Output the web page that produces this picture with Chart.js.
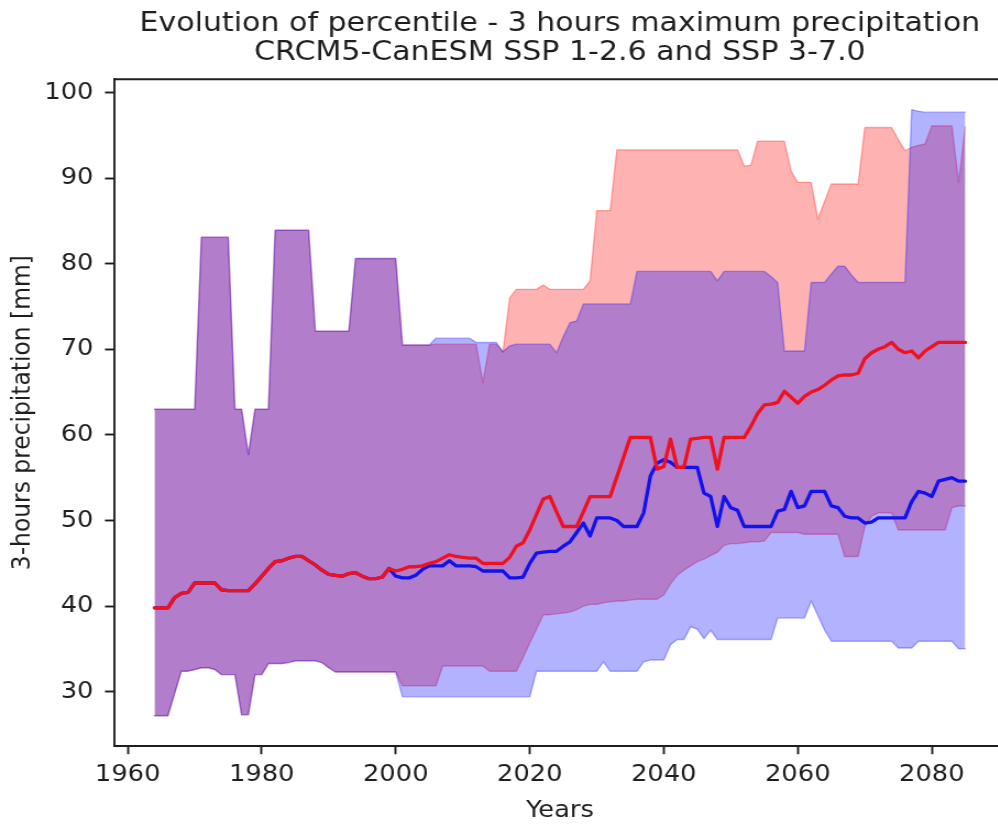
<!DOCTYPE html>
<html>
<head>
<meta charset="utf-8">
<title>Evolution of percentile - 3 hours maximum precipitation</title>
<script src="https://cdn.jsdelivr.net/npm/chart.js@4.4.1/dist/chart.umd.min.js"></script>
<style>
  html, body { margin: 0; padding: 0; overflow: hidden; background: #ffffff; }
  #wrap { position: absolute; left: 0; top: 0; }
  canvas { display: block; }
</style>
</head>
<body>
<div id="wrap">
  <!-- drawing surface is 920 px wide, shown 1.1x wider -->
  <canvas id="chart" width="920" height="825" style="width:1012px;height:825px"></canvas>
</div>
<script>
// ---- data -------------------------------------------------------------
const years = [
  1964, 1965, 1966, 1967, 1968, 1969, 1970, 1971, 1972, 1973,
  1974, 1975, 1976, 1977, 1978, 1979, 1980, 1981, 1982, 1983,
  1984, 1985, 1986, 1987, 1988, 1989, 1990, 1991, 1992, 1993,
  1994, 1995, 1996, 1997, 1998, 1999, 2000, 2001, 2002, 2003,
  2004, 2005, 2006, 2007, 2008, 2009, 2010, 2011, 2012, 2013,
  2014, 2015, 2016, 2017, 2018, 2019, 2020, 2021, 2022, 2023,
  2024, 2025, 2026, 2027, 2028, 2029, 2030, 2031, 2032, 2033,
  2034, 2035, 2036, 2037, 2038, 2039, 2040, 2041, 2042, 2043,
  2044, 2045, 2046, 2047, 2048, 2049, 2050, 2051, 2052, 2053,
  2054, 2055, 2056, 2057, 2058, 2059, 2060, 2061, 2062, 2063,
  2064, 2065, 2066, 2067, 2068, 2069, 2070, 2071, 2072, 2073,
  2074, 2075, 2076, 2077, 2078, 2079, 2080, 2081, 2082, 2083,
  2084, 2085
];

// historical period 1964-1999 (shared by both scenarios)
const histMedian = [
  39.8, 39.8, 39.8, 41.0, 41.5, 41.6, 42.7, 42.7, 42.7, 42.7,
  41.9, 41.8, 41.8, 41.8, 41.8, 42.6, 43.5, 44.4, 45.2, 45.3,
  45.6, 45.8, 45.8, 45.3, 44.8, 44.2, 43.7, 43.6, 43.5, 43.8,
  43.9, 43.5, 43.2, 43.2, 43.4, 44.4
];
const histLow = [
  27.2, 27.2, 27.2, 29.8, 32.4, 32.4, 32.6, 32.8, 32.8, 32.6,
  32.0, 32.0, 32.0, 27.3, 27.3, 32.0, 32.0, 33.3, 33.3, 33.3,
  33.4, 33.6, 33.6, 33.6, 33.6, 33.4, 32.8, 32.3, 32.3, 32.3,
  32.3, 32.3, 32.3, 32.3, 32.3, 32.3
];
const histHigh = [
  63.0, 63.0, 63.0, 63.0, 63.0, 63.0, 63.0, 83.1, 83.1, 83.1,
  83.1, 83.1, 63.0, 63.0, 57.7, 63.0, 63.0, 63.0, 83.9, 83.9,
  83.9, 83.9, 83.9, 83.9, 72.1, 72.1, 72.1, 72.1, 72.1, 72.1,
  80.6, 80.6, 80.6, 80.6, 80.6, 80.6
];

// SSP 1-2.6, 2000-2085
const ssp126Median = [
  43.5, 43.3, 43.3, 43.6, 44.3, 44.7, 44.7, 44.7, 45.3, 44.7,
  44.7, 44.7, 44.6, 44.1, 44.1, 44.1, 44.1, 43.3, 43.3, 43.4,
  45.0, 46.2, 46.3, 46.4, 46.4, 47.0, 47.5, 48.6, 49.7, 48.2,
  50.3, 50.3, 50.3, 50.0, 49.3, 49.3, 49.3, 50.9, 55.2, 56.7,
  57.1, 56.8, 56.2, 56.2, 56.2, 56.2, 53.2, 52.8, 49.3, 52.8,
  51.5, 51.2, 49.3, 49.3, 49.3, 49.3, 49.3, 51.1, 51.3, 53.4,
  51.5, 51.7, 53.4, 53.4, 53.4, 51.7, 51.5, 50.5, 50.3, 50.3,
  49.7, 49.8, 50.3, 50.3, 50.3, 50.3, 50.3, 52.2, 53.4, 53.2,
  52.8, 54.6, 54.8, 55.0, 54.6, 54.6
];
const ssp126Low = [
  32.3, 29.4, 29.4, 29.4, 29.4, 29.4, 29.4, 29.4, 29.4, 29.4,
  29.4, 29.4, 29.4, 29.4, 29.4, 29.4, 29.4, 29.4, 29.4, 29.4,
  29.4, 32.4, 32.4, 32.4, 32.4, 32.4, 32.4, 32.4, 32.4, 32.4,
  32.4, 33.5, 32.4, 32.4, 32.4, 32.4, 32.4, 33.5, 33.7, 33.7,
  33.7, 35.5, 36.1, 36.1, 37.6, 37.3, 36.2, 37.2, 36.1, 36.1,
  36.1, 36.1, 36.1, 36.1, 36.1, 36.1, 36.1, 38.6, 38.6, 38.6,
  38.6, 38.6, 40.6, 38.9, 37.2, 35.9, 35.9, 35.9, 35.9, 35.9,
  35.9, 35.9, 35.9, 35.9, 35.9, 35.1, 35.1, 35.1, 35.9, 35.9,
  35.9, 35.9, 35.9, 35.9, 35.0, 35.0
];
const ssp126High = [
  80.6, 70.5, 70.5, 70.5, 70.5, 70.5, 71.3, 71.3, 71.3, 71.3,
  71.3, 71.3, 70.8, 70.8, 70.8, 70.8, 69.7, 70.4, 70.6, 70.6,
  70.6, 70.6, 70.6, 70.6, 69.6, 71.5, 73.1, 73.3, 75.3, 75.3,
  75.3, 75.3, 75.3, 75.3, 75.3, 75.3, 79.1, 79.1, 79.1, 79.1,
  79.1, 79.1, 79.1, 79.1, 79.1, 79.1, 79.1, 79.1, 78.0, 79.1,
  79.1, 79.1, 79.1, 79.1, 79.1, 79.1, 78.5, 77.8, 69.8, 69.8,
  69.8, 69.8, 77.8, 77.8, 77.8, 78.8, 79.7, 79.7, 78.7, 77.8,
  77.8, 77.8, 77.8, 77.8, 77.8, 77.8, 77.8, 98.0, 97.8, 97.7,
  97.7, 97.7, 97.7, 97.7, 97.7, 97.7
];

// SSP 3-7.0, 2000-2085
const ssp370Median = [
  44.1, 44.3, 44.6, 44.6, 44.7, 45.0, 45.2, 45.6, 46.0, 45.8,
  45.7, 45.6, 45.6, 45.0, 45.0, 45.0, 45.0, 45.7, 47.0, 47.4,
  48.9, 50.7, 52.5, 52.8, 51.0, 49.3, 49.3, 49.3, 51.0, 52.8,
  52.8, 52.8, 52.8, 55.1, 57.4, 59.7, 59.7, 59.7, 59.7, 56.0,
  56.3, 59.5, 56.2, 56.2, 59.5, 59.6, 59.7, 59.7, 56.0, 59.7,
  59.7, 59.7, 59.7, 61.0, 62.5, 63.5, 63.6, 63.8, 65.1, 64.4,
  63.7, 64.5, 65.0, 65.3, 65.8, 66.4, 66.9, 67.0, 67.0, 67.2,
  68.9, 69.6, 70.0, 70.3, 70.8, 70.0, 69.6, 69.8, 69.0, 69.8,
  70.3, 70.8, 70.8, 70.8, 70.8, 70.8
];
const ssp370Low = [
  32.3, 30.7, 30.7, 30.7, 30.7, 30.7, 30.7, 33.0, 33.0, 33.0,
  33.0, 33.0, 33.0, 33.0, 32.4, 32.4, 32.4, 32.4, 32.4, 34.0,
  35.7, 37.3, 39.0, 39.0, 39.1, 39.2, 39.3, 39.6, 40.0, 40.2,
  40.2, 40.4, 40.5, 40.6, 40.6, 40.7, 40.8, 40.8, 40.8, 40.8,
  41.3, 42.6, 43.6, 44.2, 44.7, 45.2, 45.5, 45.9, 46.3, 47.1,
  47.3, 47.3, 47.4, 47.5, 47.5, 47.6, 48.6, 48.6, 48.6, 48.6,
  48.6, 48.4, 48.4, 48.4, 48.4, 48.4, 48.4, 45.8, 45.8, 45.8,
  49.3, 50.5, 50.9, 50.9, 50.9, 48.9, 48.9, 48.9, 48.9, 48.9,
  48.9, 48.9, 48.9, 51.5, 51.7, 51.7
];
const ssp370High = [
  80.6, 70.5, 70.5, 70.5, 70.5, 70.5, 70.6, 70.6, 70.6, 70.6,
  70.6, 70.6, 70.6, 66.1, 70.6, 70.6, 69.7, 76.0, 77.0, 77.0,
  77.0, 77.0, 77.5, 77.0, 77.0, 77.0, 77.0, 77.0, 77.0, 78.0,
  86.2, 86.2, 86.2, 93.3, 93.3, 93.3, 93.3, 93.3, 93.3, 93.3,
  93.3, 93.3, 93.3, 93.3, 93.3, 93.3, 93.3, 93.3, 93.3, 93.3,
  93.3, 93.3, 91.4, 91.5, 94.3, 94.3, 94.3, 94.3, 94.3, 90.8,
  89.5, 89.5, 89.5, 85.2, 87.3, 89.3, 89.3, 89.3, 89.3, 89.3,
  95.9, 95.9, 95.9, 95.9, 95.9, 94.5, 93.2, 93.6, 93.8, 94.0,
  96.1, 96.1, 96.1, 96.1, 89.5, 96.0
];

const xTicks = [1960, 1980, 2000, 2020, 2040, 2060, 2080];
const yTicks = [30, 40, 50, 60, 70, 80, 90, 100];

const titleLines = [
  'Evolution of percentile - 3 hours maximum precipitation',
  'CRCM5-CanESM SSP 1-2.6 and SSP 3-7.0'
];
const xLabel = 'Years';
const yLabel = '3-hours precipitation [mm]';

// ---- series assembly ----------------------------------------------------
const toPoints = (vals) => years.map((yr, i) => ({ x: yr, y: vals[i] }));
const full = (hist, future) => hist.concat(future);

const s126 = {
  median: full(histMedian, ssp126Median),
  low: full(histLow, ssp126Low),
  high: full(histHigh, ssp126High)
};
const s370 = {
  median: full(histMedian, ssp370Median),
  low: full(histLow, ssp370Low),
  high: full(histHigh, ssp370High)
};

// axis limits with a 5 % margin around the data, like the default autoscale
const allY = [].concat(s126.low, s126.high, s370.low, s370.high);
const yMin0 = Math.min(...allY), yMax0 = Math.max(...allY);
const yPad = 0.05 * (yMax0 - yMin0);
const xMin0 = years[0], xMax0 = years[years.length - 1];
const xPad = 0.05 * (xMax0 - xMin0);

// ---- styling ------------------------------------------------------------
const FONT = 'DejaVu Sans';
const INK = '#1e1e1e';
const RED_LINE = '#f0101e';
const BLUE_LINE = '#1212ee';
const RED_BAND = 'rgba(255, 0, 0, 0.3)';
const BLUE_BAND = 'rgba(0, 0, 255, 0.3)';
const SPINE_W = 1.9;

// plot frame: top and right spines
const framePlugin = {
  id: 'frame',
  afterDatasetsDraw(chart) {
    const { ctx, chartArea: a } = chart;
    ctx.save();
    ctx.strokeStyle = INK;
    ctx.lineWidth = SPINE_W;
    ctx.beginPath();
    ctx.moveTo(a.left, a.top);
    ctx.lineTo(a.right, a.top);
    ctx.lineTo(a.right, a.bottom);
    ctx.stroke();
    ctx.restore();
  }
};

const bandEdge = (color) => ({
  borderColor: color,
  borderWidth: 1.4,
  pointRadius: 0,
  tension: 0
});

new Chart(document.getElementById('chart'), {
  type: 'line',
  data: {
    datasets: [
      { label: 'SSP 3-7.0 median', data: toPoints(s370.median), borderColor: RED_LINE,
        borderWidth: 3.3, pointRadius: 0, fill: false, order: 0 },
      { label: 'SSP 1-2.6 median', data: toPoints(s126.median), borderColor: BLUE_LINE,
        borderWidth: 3.3, pointRadius: 0, fill: false, order: 1 },
      Object.assign({ label: 'SSP 1-2.6 max', data: toPoints(s126.high), fill: false, order: 2 },
        bandEdge(BLUE_BAND)),
      Object.assign({ label: 'SSP 1-2.6 min', data: toPoints(s126.low), fill: 2,
        backgroundColor: BLUE_BAND, order: 3 }, bandEdge(BLUE_BAND)),
      Object.assign({ label: 'SSP 3-7.0 max', data: toPoints(s370.high), fill: false, order: 4 },
        bandEdge(RED_BAND)),
      Object.assign({ label: 'SSP 3-7.0 min', data: toPoints(s370.low), fill: 4,
        backgroundColor: RED_BAND, order: 5 }, bandEdge(RED_BAND))
    ]
  },
  options: {
    responsive: false,
    animation: false,
    devicePixelRatio: 1,
    layout: { padding: { top: 0, right: 5.6, bottom: 0, left: 0 } },
    elements: { line: { tension: 0, borderJoinStyle: 'round', borderCapStyle: 'round' } },
    plugins: {
      legend: { display: false },
      tooltip: { enabled: false },
      filler: { propagate: false },
      title: {
        display: true,
        fullSize: false,
        text: titleLines,
        color: INK,
        font: { family: FONT, size: 27.3, weight: 'normal', lineHeight: 1.062 },
        padding: { top: 9.5, bottom: 11.8 }
      }
    },
    scales: {
      x: {
        type: 'linear',
        min: xMin0 - xPad,
        max: xMax0 + xPad,
        afterBuildTicks: (scale) => { scale.ticks = xTicks.map(v => ({ value: v })); },
        afterFit: (scale) => { scale.height = 79; },
        ticks: {
          color: INK,
          font: { family: FONT, size: 23.4 },
          padding: 6.7,
          maxRotation: 0,
          autoSkip: false,
          callback: (v) => String(v)
        },
        grid: { display: true, drawOnChartArea: false, drawTicks: true,
          tickLength: 8.2, tickWidth: SPINE_W, tickColor: INK },
        border: { display: true, color: INK, width: SPINE_W },
        title: { display: true, text: xLabel, color: INK,
          font: { family: FONT, size: 23.4 }, padding: { top: 0, bottom: 0 } }
      },
      y: {
        type: 'linear',
        min: yMin0 - yPad,
        max: yMax0 + yPad,
        afterBuildTicks: (scale) => { scale.ticks = yTicks.map(v => ({ value: v })); },
        afterFit: (scale) => { scale.width = 103.6; },
        ticks: {
          color: INK,
          font: { family: FONT, size: 23.4 },
          padding: 10.5,
          autoSkip: false,
          callback: (v) => String(v)
        },
        grid: { display: true, drawOnChartArea: false, drawTicks: true,
          tickLength: 8.2, tickWidth: SPINE_W, tickColor: INK },
        border: { display: true, color: INK, width: SPINE_W },
        title: { display: true, text: yLabel, color: INK,
          font: { family: FONT, size: 23.4 }, padding: { top: 7, bottom: 0 } }
      }
    }
  },
  plugins: [framePlugin]
});
</script>
</body>
</html>
